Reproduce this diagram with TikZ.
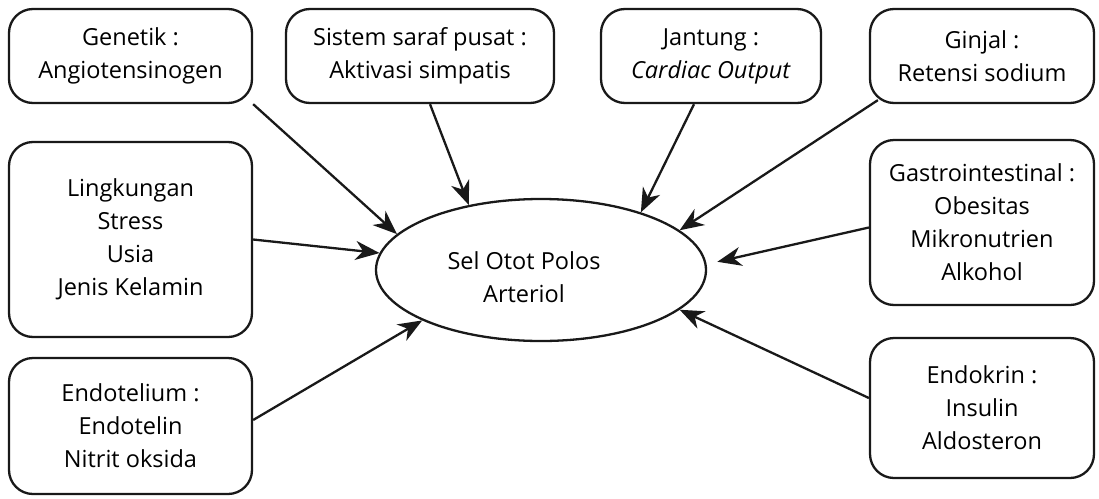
\documentclass[tikz,border=0pt]{standalone}
\usepackage{fontspec}
\setmainfont{Open Sans}
\usetikzlibrary{arrows.meta,shapes.geometric}
\begin{document}
\begin{tikzpicture}[x=1pt,y=-1pt,
  txt/.style={align=center, font=\fontsize{23.5}{33}\selectfont},
  box/.style={txt, draw=black!90, line width=2.3pt, rounded corners=24pt, inner sep=0pt},
  conn/.style={line width=2.3pt, draw=black!90, -{Stealth[length=24pt,width=19pt,inset=7.5pt]}}
]
\useasboundingbox (0,0) rectangle (1099,498);
\node[box, minimum width=243pt, minimum height=94pt] (gen) at (130.5,56) {Genetik :\\Angiotensinogen};
\node[box, minimum width=268pt, minimum height=94pt] (sis) at (420,56) {Sistem saraf pusat :\\Aktivasi simpatis};
\node[box, minimum width=220pt, minimum height=94pt] (jan) at (711,56) {Jantung :\\\textit{Cardiac Output}};
\node[box, minimum width=224pt, minimum height=94pt] (gin) at (982,56) {Ginjal :\\Retensi sodium};
\node[box, minimum width=243pt, minimum height=195pt] (lin) at (130.5,239.5) {Lingkungan\\Stress\\Usia\\Jenis Kelamin};
\node[box, minimum width=243pt, minimum height=136pt] (endo) at (130.5,426) {Endotelium :\\Endotelin\\Nitrit oksida};
\node[box, minimum width=224pt, minimum height=165pt] (gas) at (982,222.5) {Gastrointestinal :\\Obesitas\\Mikronutrien\\Alkohol};
\node[box, minimum width=224pt, minimum height=140pt] (endk) at (982,408) {Endokrin :\\Insulin\\Aldosteron};
\node[draw=black!90, line width=2.3pt, ellipse, minimum width=330pt, minimum height=142pt, inner sep=0pt] (cell) at (541,270) {};
\node[txt] (celltext) at (524,277) {Sel Otot Polos\\Arteriol};
\draw[conn] (gen.south east) -- (cell.166);
\draw[conn] ([xshift=10pt]sis.south) -- (cell.138.3);
\draw[conn] ([xshift=-17pt]jan.south) -- (cell.30.4);
\draw[conn] ([xshift=9pt,yshift=4pt]gin.south west) -- (cell.16.1);
\draw[conn] (lin.east) -- (cell.174.2);
\draw[conn] ([yshift=6pt]endo.east) -- (cell.-157.9);
\draw[conn, shorten >=11pt] ([yshift=-5pt]gas.west) -- (cell.2.3);
\draw[conn] ([yshift=10pt]endk.west) -- (cell.-16.4);
\end{tikzpicture}
\end{document}
